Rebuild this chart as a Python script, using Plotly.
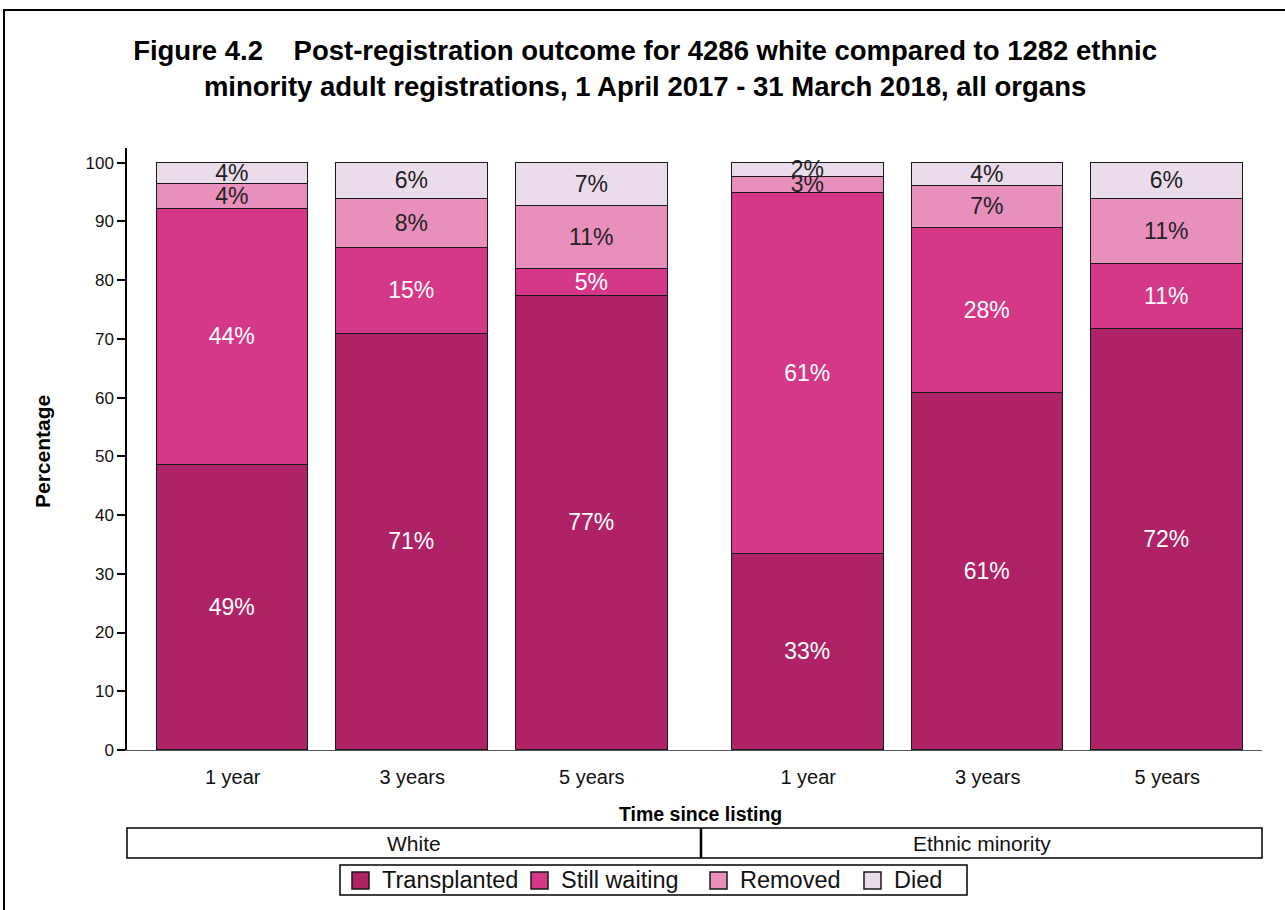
import plotly.graph_objects as go

# ---- data ----
periods = ["1 year", "3 years", "5 years"]
groups = ["White", "Ethnic minority"]
series = ["Transplanted", "Still waiting", "Removed", "Died"]
transplanted = [48.6, 70.9, 77.3, 33.4, 60.8, 71.7]
still_waiting = [43.5, 14.6, 4.6, 61.4, 28.1, 11.1]
removed = [4.2, 8.4, 10.8, 2.8, 7.2, 11.1]
died = [3.7, 6.1, 7.3, 2.4, 3.9, 6.1]

values = [transplanted, still_waiting, removed, died]
colors = ["#AF2366", "#D63888", "#E890BB", "#EBDCEC"]
text_colors = ["white", "white", "#222222", "#222222"]

W, H = 1285, 910
ML, MR, MT, MB = 127, 23, 148, 160
PW, PH = W - ML - MR, H - MT - MB
FONT = "Arial, Liberation Sans, Helvetica, sans-serif"

def px(x):
    return (x - ML) / PW

def py(y):
    return (H - MB - y) / PH

group_gap = 0.2056
xpos = []
for g in range(len(groups)):
    for i in range(len(periods)):
        xpos.append(g * (len(periods) + group_gap) + i)
ticktext = periods * len(groups)

fig = go.Figure()
for name, vals, col, tc in zip(series, values, colors, text_colors):
    fig.add_trace(go.Bar(
        x=xpos, y=vals, name=name, width=0.844, showlegend=False,
        marker=dict(color=col, line=dict(color="#1a1a1a", width=1.5)),
        text=[f"{round(v):d}%" for v in vals],
        textposition="inside", insidetextanchor="middle", textangle=0,
        insidetextfont=dict(color=tc, size=23, family=FONT),
        hoverinfo="skip",
    ))

shapes = []
annotations = []
# outer frame
shapes.append(dict(type="rect", xref="paper", yref="paper",
                   x0=px(4), x1=px(1300), y0=py(930), y1=py(10),
                   line=dict(color="black", width=2), fillcolor="rgba(0,0,0,0)", layer="below"))
# group box
shapes.append(dict(type="rect", xref="paper", yref="paper",
                   x0=0, x1=1, y0=py(858), y1=py(828),
                   line=dict(color="black", width=1.5), fillcolor="rgba(0,0,0,0)"))
shapes.append(dict(type="line", xref="paper", yref="paper",
                   x0=px(701), x1=px(701), y0=py(858), y1=py(828),
                   line=dict(color="black", width=2.5)))
group_centers = [414, 982]
for gname, gx in zip(groups, group_centers):
    annotations.append(dict(text=gname, x=px(gx), y=py(843), xref="paper", yref="paper",
                            xanchor="center", yanchor="middle", showarrow=False,
                            font=dict(size=21, family=FONT, color="#111")))

# manual legend
shapes.append(dict(type="rect", xref="paper", yref="paper",
                   x0=px(340), x1=px(967), y0=py(895), y1=py(865),
                   line=dict(color="black", width=1.5), fillcolor="white"))
legend_left = [352, 531, 710, 864]
for name, col, lx in zip(series, colors, legend_left):
    shapes.append(dict(type="rect", xref="paper", yref="paper",
                       x0=px(lx), x1=px(lx + 17), y0=py(889), y1=py(872),
                       line=dict(color="#1a1a1a", width=1.5), fillcolor=col))
    annotations.append(dict(text=name, x=px(lx + 28), y=py(880), xref="paper", yref="paper",
                            xanchor="left", yanchor="middle", showarrow=False,
                            font=dict(size=23.5, family=FONT, color="#111")))

annotations += [
    dict(text="<b>Time since listing</b>", x=px(700), y=py(814), xref="paper", yref="paper",
         xanchor="center", yanchor="middle", showarrow=False,
         font=dict(size=19.5, family=FONT, color="black")),
    dict(text="<b>Percentage</b>", x=px(42), y=py(452), xref="paper", yref="paper",
         xanchor="center", yanchor="middle", showarrow=False, textangle=-90,
         font=dict(size=21, family=FONT, color="black")),
]

fig.update_layout(
    width=W, height=H,
    margin=dict(l=ML, r=MR, t=MT, b=MB, autoexpand=False),
    paper_bgcolor="white", plot_bgcolor="white",
    barmode="stack",
    title=dict(
        text="<b>Figure 4.2&nbsp;&nbsp;&nbsp;&nbsp;Post-registration outcome for 4286 white compared to 1282 ethnic<br>minority adult registrations, 1 April 2017 - 31 March 2018, all organs</b>",
        x=0.502, xanchor="center", y=1 - 60 / H, yanchor="top",
        font=dict(size=27.5, family=FONT, color="black"),
    ),
    uniformtext=dict(minsize=23, mode="show"),
    showlegend=False,
    shapes=shapes,
    annotations=annotations,
    bargap=0,
)
fig.update_xaxes(
    range=[-(233 - ML) / 180, xpos[-1] + (W - MR - 1167) / 180], tickvals=xpos, ticktext=ticktext,
    showline=True, linecolor="#555", linewidth=1, ticks="", showgrid=False, zeroline=False,
    ticklabelstandoff=9,
    tickfont=dict(size=20, family=FONT, color="#111"), fixedrange=True,
)
fig.update_yaxes(
    range=[0, 102.5], tickvals=list(range(0, 101, 10)),
    showline=True, linecolor="black", linewidth=1.5, ticks="outside", ticklen=8,
    tickcolor="black", tickwidth=1.5, showgrid=False, zeroline=False,
    tickfont=dict(size=17, family=FONT, color="#111"), fixedrange=True,
)

fig.write_html("out.html", config={"displayModeBar": False},
               post_script="document.body.style.margin='0';")
